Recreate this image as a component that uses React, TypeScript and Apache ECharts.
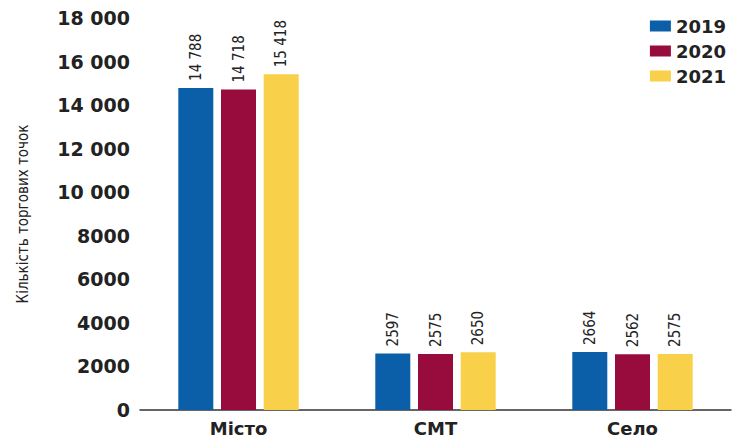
import React, { useEffect, useRef } from "react";
import * as echarts from "echarts";

const categories = ["Місто", "СМТ", "Село"];
const years = ["2019", "2020", "2021"];
const values2019 = [14788, 2597, 2664];
const values2020 = [14718, 2575, 2562];
const values2021 = [15418, 2650, 2575];
const colors = ["#0b5ea8", "#980b3d", "#f9d04a"];
const yAxisTitle = "Кількість торгових точок";

const fmt = (v: number) => {
  if (v >= 10000) {
    const s = String(Math.round(v));
    return s.slice(0, s.length - 3) + " " + s.slice(s.length - 3);
  }
  return String(v);
};

const wideFont = "DejaVu Sans";

export default function App() {
  const ref = useRef<HTMLDivElement>(null);
  useEffect(() => {
    if (!ref.current) return;
    const chart = echarts.init(ref.current, undefined, { renderer: "svg" });
    const series = [values2019, values2020, values2021].map((d, i) => ({
      name: years[i],
      type: "bar" as const,
      data: d,
      barWidth: 35,
      barGap: "22%",
      itemStyle: { color: colors[i] },
      label: {
        show: true,
        position: "top" as const,
        rotate: 90,
        align: "left" as const,
        verticalAlign: "middle" as const,
        distance: 7,
        fontFamily: "DejaVu Sans Condensed",
        fontSize: 15,
        color: "#222",
        formatter: (p: any) => fmt(p.value),
      },
    }));
    chart.setOption({
      animation: false,
      backgroundColor: "#fff",
      legend: {
        orient: "vertical",
        right: 3,
        top: 12,
        itemWidth: 21,
        itemHeight: 11,
        itemGap: 7,
        icon: "rect",
        textStyle: { fontFamily: wideFont, fontWeight: "bold", fontSize: 18, color: "#222", padding: [0, 0, 0, 0] },
        data: years,
      },
      grid: { left: 140, right: 3, top: 18, bottom: 29, containLabel: false },
      xAxis: {
        type: "category",
        data: categories,
        axisLine: { lineStyle: { color: "#333", width: 1.5 } },
        axisTick: { show: false },
        axisLabel: { fontFamily: wideFont, fontWeight: "bold", fontSize: 18, color: "#222", margin: 9 },
      },
      yAxis: {
        type: "value",
        min: 0,
        max: 18000,
        interval: 2000,
        splitLine: { show: false },
        axisLine: { show: false },
        axisTick: { show: false },
        axisLabel: {
          fontFamily: wideFont,
          fontWeight: "bold",
          fontSize: 19,
          color: "#222",
          margin: 10,
          formatter: (v: number) => fmt(v),
        },
        name: yAxisTitle,
        nameLocation: "middle",
        nameRotate: 90,
        nameGap: 110,
        nameTextStyle: { fontFamily: "DejaVu Sans Condensed", fontSize: 15, color: "#222" },
      },
      series,
    });
    return () => chart.dispose();
  }, []);
  return <div ref={ref} style={{ width: 734, height: 439, position: "absolute", left: 0, top: 0 }} />;
}
